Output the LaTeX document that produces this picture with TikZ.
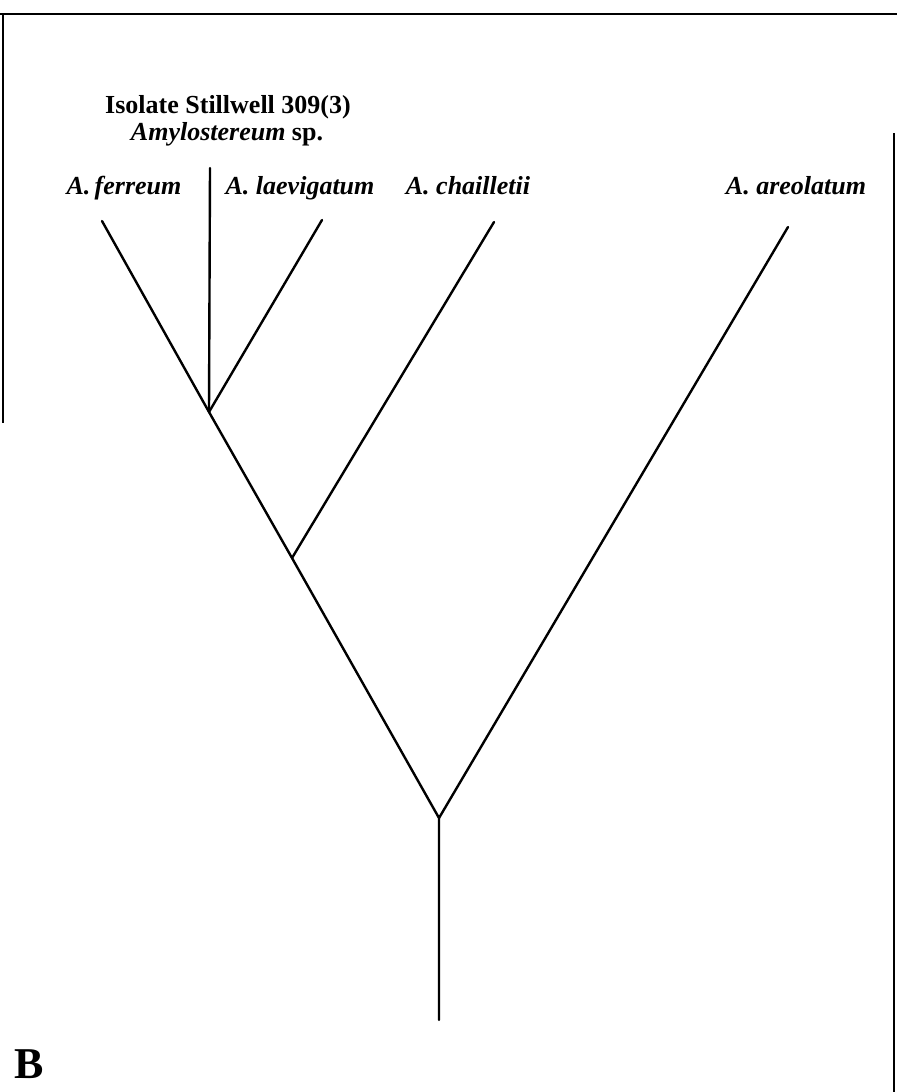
\documentclass[tikz,border=0pt]{standalone}
\usepackage{fontspec}
\setmainfont{Liberation Serif}
\begin{document}
\begin{tikzpicture}[x=1pt,y=-1pt,
  branch/.style={line width=2.4pt, line cap=round},
  framerule/.style={line width=2pt},
  taxon/.style={font=\fontsize{26}{28}\selectfont\bfseries\itshape, anchor=base, inner sep=0pt},
  heading/.style={font=\fontsize{26}{28}\selectfont\bfseries, anchor=base, inner sep=0pt},
  panel/.style={font=\fontsize{44}{48}\selectfont\bfseries, anchor=base west, inner sep=0pt}]
\useasboundingbox (0,0) rectangle (897,1092);
\fill[white] (0,0) rectangle (897,1092);

% partial frame
\coordinate (ftl) at (0,14);
\coordinate (ftr) at (897,14);
\coordinate (fl1) at (3,14);
\coordinate (fl2) at (3,423);
\coordinate (fr1) at (894,133);
\coordinate (fr2) at (894,1092);
\draw[framerule] (ftl) -- (ftr);
\draw[framerule] (fl1) -- (fl2);
\draw[framerule] (fr1) -- (fr2);

% tips and internal nodes
\coordinate (tferreum) at (102,221);
\coordinate (tisolate) at (210,168);
\coordinate (tlaev) at (322,220);
\coordinate (tchail) at (494,222);
\coordinate (tareo) at (788,227);
\coordinate (n1) at (209,412);
\coordinate (n2) at (292,558);
\coordinate (root) at (439,818);
\coordinate (base) at (439,1020);

% branches
\draw[branch] (tferreum) -- (n1) -- (n2) -- (root) -- (base);
\draw[branch] (tisolate) -- (n1);
\draw[branch] (tlaev) -- (n1);
\draw[branch] (tchail) -- (n2);
\draw[branch] (tareo) -- (root);

% labels
\node[heading] (isotitle) at (228,113) {Isolate Stillwell 309(3)};
\node[heading] (isosp) at (227,140) {\textit{Amylostereum} sp.};
\node[taxon] (lferreum) at (124,194) {A.\,ferreum};
\node[taxon] (llaev) at (300,194) {A. laevigatum};
\node[taxon] (lchail) at (468,194) {A. chailletii};
\node[taxon] (lareo) at (796,194) {A. areolatum};
\node[panel] (lbl) at (14,1078) {B};
\end{tikzpicture}
\end{document}
